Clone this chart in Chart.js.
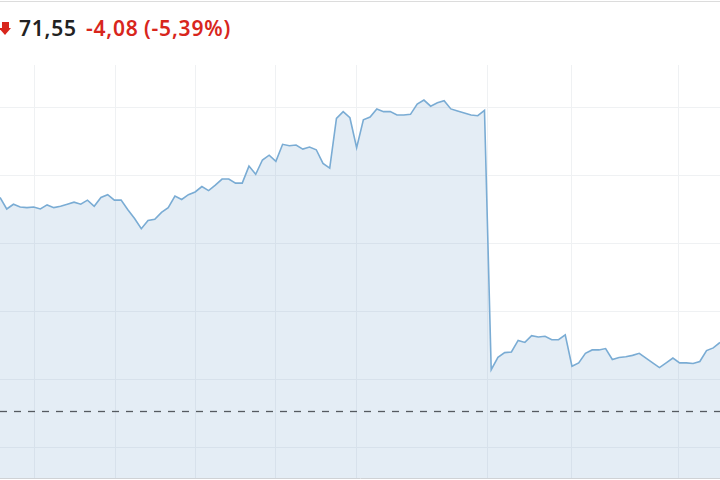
<!DOCTYPE html>
<html>
<head>
<meta charset="utf-8">
<script src="https://cdn.jsdelivr.net/npm/chart.js@4.4.1/dist/chart.umd.min.js"></script>
<style>
  html, body { margin: 0; padding: 0; background: #fff; }
  body { width: 720px; height: 480px; position: relative; overflow: hidden; font-family: "Noto Sans", sans-serif; }
  #topline { position: absolute; left: 0; top: 1px; width: 720px; height: 1px; background: #dcdcdc; }
  .q { position: absolute; top: 18px; font-size: 21px; line-height: 21px; font-weight: 600; letter-spacing: 0.8px; white-space: nowrap; }
  #price { left: 19px; color: #222; }
  #chg { left: 86px; color: #d8261c; }
  #pct { left: 144px; color: #d8261c; }
  #arrow { position: absolute; left: 0; top: 22px; width: 12px; height: 13px; }
  #arrow .shaft { position: absolute; left: 2px; top: 0; width: 7px; height: 6px; background: #d8261c; }
  #arrow .head { position: absolute; left: -1px; top: 6px; width: 0; height: 0; border-left: 6.5px solid transparent; border-right: 6.5px solid transparent; border-top: 7px solid #d8261c; }
  #myChart { position: absolute; left: 0; top: 65px; }
</style>
</head>
<body>
<div id="topline"></div>
<div id="arrow"><div class="shaft"></div><div class="head"></div></div>
<span class="q" id="price">71,55</span>
<span class="q" id="chg">-4,08</span>
<span class="q" id="pct">(-5,39%)</span>
<canvas id="myChart" width="720" height="415"></canvas>
<script>
// Kurs (Index der Messpunkte auf der x-Achse)
const prices = [
  73.68, 73.51, 73.58, 73.54, 73.53, 73.54, 73.51, 73.57, 73.53, 73.55,
  73.58, 73.61, 73.58, 73.64, 73.55, 73.68, 73.72, 73.64, 73.64, 73.50,
  73.37, 73.22, 73.34, 73.36, 73.46, 73.53, 73.70, 73.65, 73.72, 73.76,
  73.84, 73.78, 73.86, 73.95, 73.95, 73.89, 73.89, 74.14, 74.02, 74.23,
  74.30, 74.21, 74.46, 74.44, 74.45, 74.39, 74.42, 74.38, 74.18, 74.11,
  74.84, 74.94, 74.85, 74.41, 74.82, 74.86, 74.98, 74.94, 74.94, 74.89,
  74.89, 74.90, 75.05, 75.11, 75.02, 75.07, 75.10, 74.98, 74.95, 74.92,
  74.89, 74.88, 74.96, 71.15, 71.33, 71.40, 71.41, 71.58, 71.55, 71.65,
  71.63, 71.64, 71.59, 71.59, 71.66, 71.20, 71.25, 71.39, 71.44, 71.44,
  71.46, 71.30, 71.33, 71.34, 71.36, 71.39, 71.32, 71.25, 71.18, 71.25,
  71.32, 71.25, 71.25, 71.24, 71.27, 71.43, 71.47, 71.55
];

// Tagesgrenzen (vertikale Gitterlinien) und Kurs-Gitterlinien
const dayStarts = [5.1, 17.2, 29, 41, 53, 72.5, 84.9, 100.8];
const priceTicks = [70, 71, 72, 73, 74, 75];
const refLine = 70.54;

// gestrichelte Referenzlinie
const refLinePlugin = {
  id: 'refLine',
  afterDatasetsDraw(chart) {
    const { ctx, chartArea, scales } = chart;
    const y = Math.round(scales.y.getPixelForValue(refLine)) + 0.5;
    ctx.save();
    ctx.strokeStyle = '#555a60';
    ctx.lineWidth = 1.3;
    ctx.setLineDash([7, 7]);
    ctx.beginPath();
    ctx.moveTo(chartArea.left, y);
    ctx.lineTo(chartArea.right, y);
    ctx.stroke();
    ctx.restore();
  }
};

const config = {
  type: 'line',
  data: {
    datasets: [{
      data: prices.map((p, i) => ({ x: i, y: p })),
      borderColor: 'rgb(122, 172, 212)',
      borderWidth: 1.6,
      backgroundColor: 'rgba(120, 165, 205, 0.2)',
      fill: 'start',
      pointRadius: 0,
      tension: 0
    }]
  },
  options: {
    responsive: false,
    animation: false,
    layout: { padding: { left: 0, right: 0, top: 0, bottom: 2 } },
    plugins: { legend: { display: false }, tooltip: { enabled: false } },
    scales: {
      x: {
        type: 'linear',
        min: 0,
        max: prices.length - 1,
        afterBuildTicks: (axis) => { axis.ticks = dayStarts.map(v => ({ value: v })); },
        ticks: { display: false },
        grid: { color: '#eff1f3', drawTicks: false },
        border: { display: true, color: '#cfd2d5', width: 1 }
      },
      y: {
        min: 70 - 30 / 68,
        max: 75.625,
        afterBuildTicks: (axis) => { axis.ticks = priceTicks.map(v => ({ value: v })); },
        ticks: { display: false },
        grid: { color: '#eff1f3', drawTicks: false },
        border: { display: false }
      }
    }
  },
  plugins: [refLinePlugin]
};

var myChart = new Chart(document.getElementById('myChart'), config);
</script>
</body>
</html>
